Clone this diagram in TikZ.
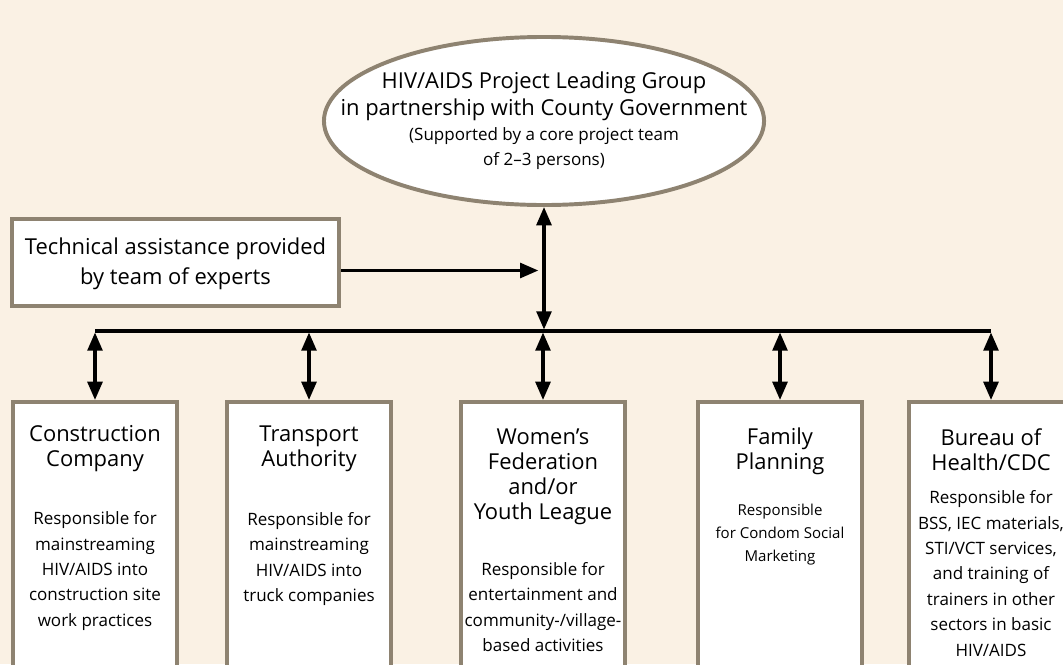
\documentclass[tikz,border=0pt]{standalone}
\usepackage{fontspec}
\setmainfont{Open Sans}
\usetikzlibrary{arrows.meta,shapes.geometric}
\definecolor{paper}{HTML}{FAF1E4}
\definecolor{frame}{HTML}{8E8371}

\begin{document}
\begin{tikzpicture}[x=0.025cm,y=-0.025cm,>={Triangle[length=13pt,width=10.5pt]},
	lead/.style={ellipse,draw=frame,line width=2.8pt,fill=white,minimum width=11cm,minimum height=4.2cm,inner sep=0pt},
	help/.style={rectangle,draw=frame,line width=2.8pt,fill=white,minimum width=8.175cm,minimum height=2.175cm,inner sep=0pt},
	unit/.style={rectangle,draw=frame,line width=2.8pt,fill=white,minimum width=4.1cm,minimum height=8cm,anchor=north,inner sep=0pt},
	big/.style={align=center,inner sep=0pt,font=\fontsize{15.6}{18.6}\selectfont},
	head/.style={align=center,inner sep=0pt,font=\fontsize{15.6}{17.8}\selectfont},
	desc/.style={align=center,inner sep=0pt,font=\fontsize{12.1}{18.1}\selectfont},
	link/.style={line width=2.4pt}]
		\fill[paper] (0,0) rectangle (1063,664);
		\useasboundingbox (0,0) rectangle (1063,664);
		\node[lead] (lead) at (544,121) {};
		\node[big,font=\fontsize{15.6}{19.2}\selectfont] (leadhead) at (544,96) {HIV/AIDS Project Leading Group\\in partnership with County Government};
		\node[desc,font=\fontsize{12.1}{17.8}\selectfont] (leadsub) at (544,149) {(Supported by a core project team\\of 2--3 persons)};
		\node[help] (help) at (175.5,262.5) {};
		\node[big,font=\fontsize{15.6}{21}\selectfont] (helptxt) at (175.5,264) {Technical assistance provided\\by team of experts};
		\coordinate (bus) at (544,331);
		\node[unit] (cc) at (95,400) {};
		\node[unit] (ta) at (309,400) {};
		\node[unit] (wf) at (543,400) {};
		\node[unit] (fp) at (780,400) {};
		\node[unit] (bh) at (991,400) {};
		\node[head] (cc-h) at (95,448.5) {Construction\\Company};
		\node[desc] (cc-d) at (95,571) {Responsible for\\mainstreaming\\HIV/AIDS into\\construction site\\work practices};
		\node[head] (ta-h) at (309,448.5) {Transport\\Authority};
		\node[desc] (ta-d) at (309,559) {Responsible for\\mainstreaming\\HIV/AIDS into\\truck companies};
		\node[head] (wf-h) at (543,476.5) {Women’s\\Federation\\and/or\\Youth League};
		\node[desc] (wf-d) at (543,607) {Responsible for\\entertainment and\\community-/village-\\based activities};
		\node[head] (fp-h) at (780,451.5) {Family\\Planning};
		\node[desc,font=\fontsize{10.7}{16.4}\selectfont] (fp-d) at (780,535) {Responsible\\for Condom Social\\Marketing};
		\node[head] (bh-h) at (991,450) {Bureau of\\Health/CDC};
		\node[desc] (bh-d) at (991,573.5) {Responsible for\\BSS, IEC materials,\\STI/VCT services,\\and training of\\trainers in other\\sectors in basic\\HIV/AIDS};
		\draw[link,<->,shorten >=1pt] (lead.south) -- (bus);
		\draw[link,->,shorten >=4pt] ([yshift=-0.2cm]help.east) -- ([yshift=-0.2cm]help.east -| bus);
		\draw[link] (cc.north |- bus) -- (bh.north |- bus);
		\draw[link,<->,shorten <=1pt] (cc.north |- bus) -- (cc.north);
		\draw[link,<->,shorten <=1pt] (ta.north |- bus) -- (ta.north);
		\draw[link,<->,shorten <=1pt] (wf.north |- bus) -- (wf.north);
		\draw[link,<->,shorten <=1pt] (fp.north |- bus) -- (fp.north);
		\draw[link,<->,shorten <=1pt] (bh.north |- bus) -- (bh.north);
\end{tikzpicture}
\end{document}
